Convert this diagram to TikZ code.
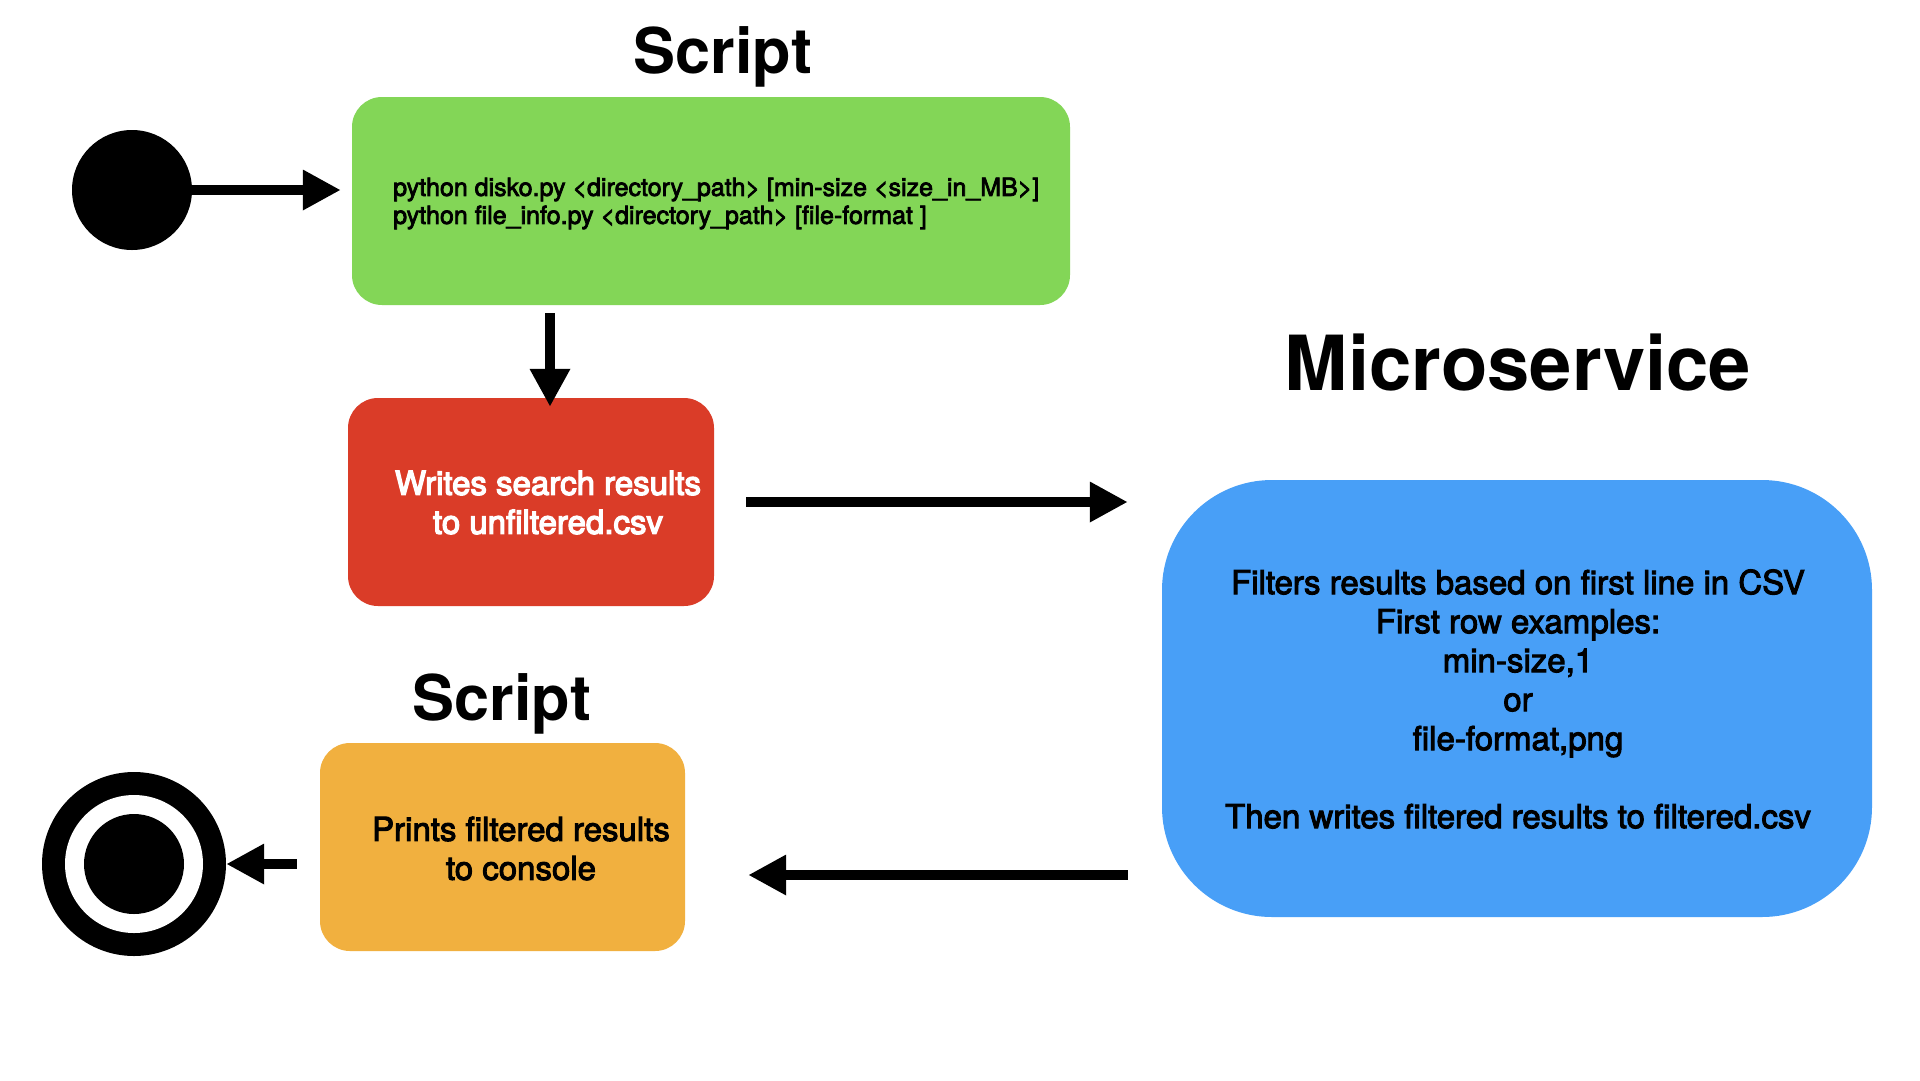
\documentclass[tikz,border=0pt]{standalone}
\usepackage{fontspec}
\setmainfont{TeX Gyre Heros}
\newfontfamily\medfont{TeX Gyre Heros}[FakeBold=3]
\newfontfamily\semifont{TeX Gyre Heros}[FakeBold=4]
\usetikzlibrary{arrows.meta,calc}
\definecolor{gbox}{HTML}{83D657}
\definecolor{rbox}{HTML}{DA3C28}
\definecolor{obox}{HTML}{F1B03F}
\definecolor{bbox}{HTML}{489FF7}
\begin{document}
\begin{tikzpicture}[x=1pt,y=-1pt,
  box/.style={rectangle, rounded corners=30pt, inner sep=0pt, draw=none},
  title/.style={font=\bfseries\fontsize{63}{70}\selectfont, anchor=base, inner sep=0pt},
  body/.style={font=\medfont\fontsize{33}{39}\selectfont, align=center, inner sep=0pt},
  code/.style={font=\medfont\fontsize{25}{28}\selectfont, align=left, inner sep=0pt, anchor=west},
  arr/.style={line width=10pt, -{Triangle[length=38pt,width=38pt]}},
]
\useasboundingbox[fill=white] (0,0) rectangle (1920,1080);

% top script box
\node[title] (t1) at (723,73) {Script};
\node[box, fill=gbox, minimum width=718pt, minimum height=208pt] (green) at (711,201) {};
\node[code] (gtext) at (393,203.5) {python disko.py <directory\_path> [min-size <size\_in\_MB>]\\python file\_info.py <directory\_path> [file-format ]};

% start state
\node[circle, fill=black, minimum size=120pt, inner sep=0pt] (start) at (132,190) {};
\draw[arr, shorten >=11pt] (start.east) -- (start.east -| green.west);

% red box
\node[box, fill=rbox, minimum width=366pt, minimum height=208pt] (red) at (531,502) {};
\node[body, text=white, font=\semifont\fontsize{33}{39}\selectfont] (rtext) at (548,502.5) {Writes search results\\to unfiltered.csv};
\draw[arr, shorten <=8pt, shorten >=-9pt] ([xshift=19pt]red.north |- green.south) -- ([xshift=19pt]red.north);

% microservice
\node[title, font=\bfseries\fontsize{76}{84}\selectfont] (t2) at (1518,390) {Microservice};
\node[box, rounded corners=110pt, fill=bbox, minimum width=710pt, minimum height=437pt] (blue) at (1517,698.5) {};
\node[body] (btext) at (1518,699) {Filters results based on first line in CSV\\First row examples:\\min-size,1\\or\\file-format,png\\[39pt]Then writes filtered results to filtered.csv};
\draw[arr, shorten <=32pt, shorten >=34pt] (red.east) -- (red.east -| blue.west);

% bottom script box
\node[title] (t3) at (502,720) {Script};
\node[box, fill=obox, minimum width=365pt, minimum height=208pt] (orange) at (502.5,847) {};
\node[body] (otext) at (521,848.5) {Prints filtered results\\to console};
\draw[arr, shorten <=34pt, shorten >=63pt] ([yshift=-28pt]orange.east -| blue.west) -- ([yshift=-28pt]orange.east);

% end state
\node[circle, fill=black, minimum size=184pt, inner sep=0pt] (endc) at (134,864) {};
\fill[white] (endc.center) circle[radius=69pt];
\fill[black] (endc.center) circle[radius=50pt];
\draw[arr, shorten <=23pt] (orange.west |- endc.center) -- (endc.east);
\end{tikzpicture}
\end{document}
